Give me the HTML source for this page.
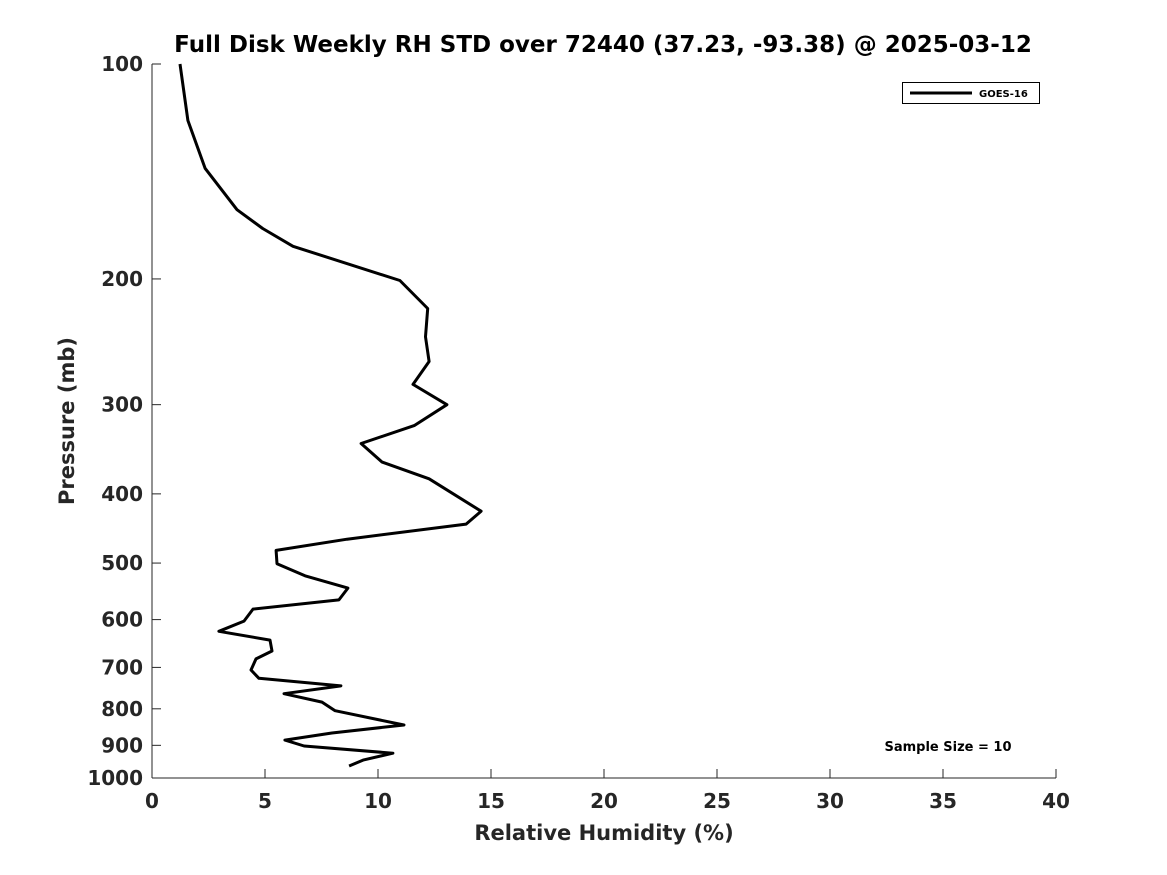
<!DOCTYPE html>
<html><head><meta charset="utf-8"><style>
html,body{margin:0;padding:0;background:#fff;}
svg{display:block;font-family:"DejaVu Sans","Liberation Sans",sans-serif;font-weight:bold;}
</style></head><body>
<svg id="chart" width="1167" height="875" viewBox="0 0 1167 875" xmlns="http://www.w3.org/2000/svg">
<rect width="1167" height="875" fill="#fff"/>
<text x="603" y="52" text-anchor="middle" font-size="23" fill="#000">Full Disk Weekly RH STD over 72440 (37.23, -93.38) @ 2025-03-12</text>
<g id="axes"></g>
<path id="series" fill="none" stroke="#000" stroke-width="3" stroke-linejoin="round"/>
<g>
<rect x="902.5" y="82.5" width="137" height="21" fill="#fff" stroke="#000" stroke-width="1"/>
<line x1="910" y1="93" x2="972" y2="93" stroke="#000" stroke-width="3"/>
<text x="979" y="97" font-size="10" fill="#000">GOES-16</text>
</g>
<text x="948" y="751" text-anchor="middle" font-size="13" fill="#000">Sample Size = 10</text>
<text x="604" y="840" text-anchor="middle" font-size="21" fill="#262626">Relative Humidity (%)</text>
<text transform="translate(74,421) rotate(-90)" text-anchor="middle" font-size="21" fill="#262626">Pressure (mb)</text>
</svg>
<script>
const rhValues=[1.24,1.59,2.35,3.76,4.9,6.24,10.97,12.2,12.1,12.26,11.55,13.05,11.6,9.25,10.18,12.26,14.56,13.9,8.63,5.49,5.53,6.77,8.67,8.27,4.47,4.07,2.96,5.22,5.31,4.6,4.38,4.73,8.36,5.84,7.52,8.1,11.15,7.96,5.88,6.73,10.66,9.34,8.72];
const pressures=[100,120,140,160,170,180,201,220,241,261,281,300,321,340,361,381,423,441,463,480,501,521,542,563,580,603,623,641,664,681,706,725,743,762,783,805,843,865,885,902,923,944,962];
const xTicks=[0,5,10,15,20,25,30,35,40];
const yTicks=[100,200,300,400,500,600,700,800,900,1000];
const X0=152,X1=1056,Y0=64,Y1=778;
function xs(v){return X0+(v-0)/(40-0)*(X1-X0);}
function ys(p){return Y0+(Math.log10(p)-2)*(Y1-Y0);}
const NS="http://www.w3.org/2000/svg";
const ax=document.getElementById('axes');
function mk(t,a){const e=document.createElementNS(NS,t);for(const k in a)e.setAttribute(k,a[k]);ax.appendChild(e);return e;}
let l=mk('line',{x1:X0,y1:Y0,x2:X0,y2:Y1,stroke:'#262626','stroke-width':1});


l=mk('line',{x1:X0,y1:Y1,x2:X1,y2:Y1,stroke:'#262626','stroke-width':1});


xTicks.forEach(v=>{const x=xs(v);
 const t=mk('line',{x1:x,y1:Y1,x2:x,y2:Y1-9,stroke:'#262626','stroke-width':1});
 
 
 const tx=mk('text',{x:x,y:808,'text-anchor':'middle','font-size':20,fill:'#262626'});
 tx.textContent=v;
 
 
});
yTicks.forEach(p=>{const y=ys(p);
 const t=mk('line',{x1:X0,y1:y,x2:X0+9,y2:y,stroke:'#262626','stroke-width':1});
 
 
 const tx=mk('text',{x:143,y:y+7,'text-anchor':'end','font-size':20,fill:'#262626'});
 tx.textContent=p;
 
 
});
document.getElementById('series').setAttribute('d',rhValues.map((v,i)=>(i?'L':'M')+xs(v).toFixed(1)+','+ys(pressures[i]).toFixed(1)).join(' '));
</script>
</body></html>
